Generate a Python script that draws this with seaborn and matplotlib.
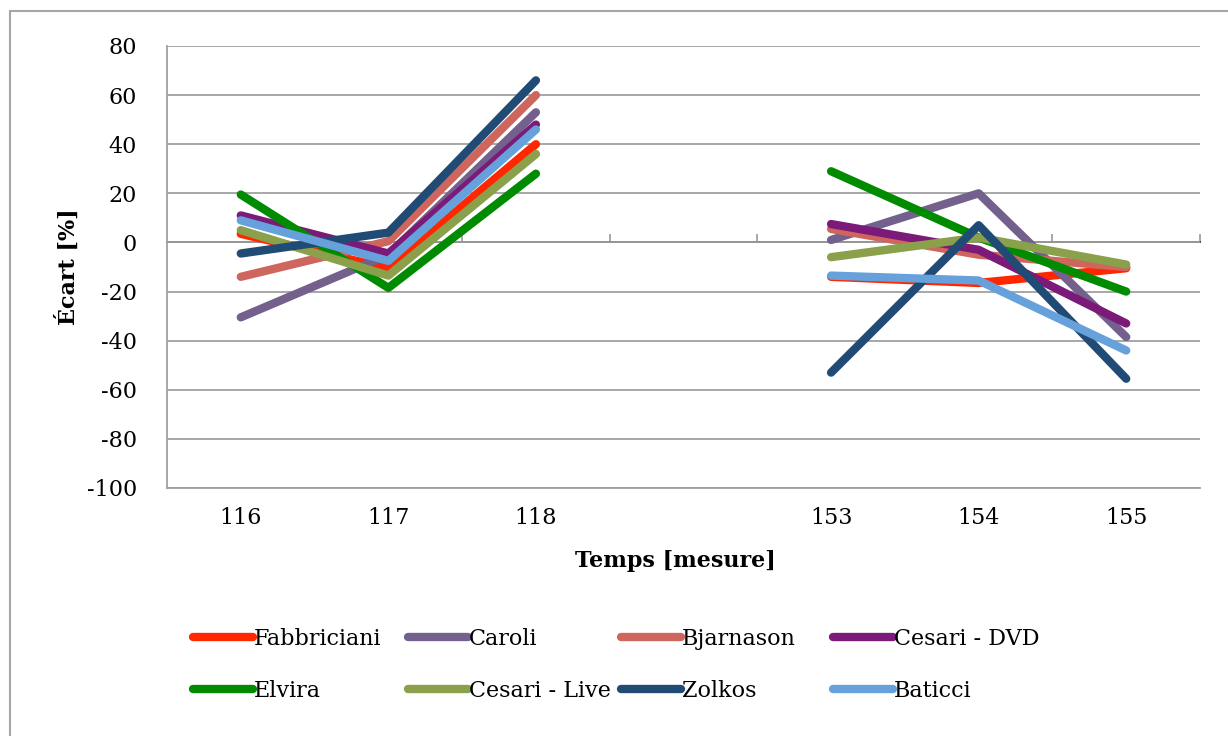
import matplotlib
matplotlib.use("Agg")
import matplotlib.pyplot as plt
from matplotlib.patches import Rectangle
import seaborn as sns
import pandas as pd
import numpy as np

# categories on the x axis (empty slot between 118 and 153)
categories = ["116", "117", "118", "", "153", "154", "155"]

# values, one list per performer (None = empty slot)
fabbriciani = [3.5, -10.5, 40, None, -14, -16.5, -10.5]
caroli = [-30.5, -5, 53, None, 1, 20, -38.5]
bjarnason = [-14, 0.5, 60, None, 5.5, -5, -10]
cesari_dvd = [11, -4.5, 48, None, 7.5, -3, -33]
elvira = [19.5, -18.5, 28, None, 29, 2, -20]
cesari_live = [5, -13.5, 36, None, -6, 2, -9]
zolkos = [-4.5, 4, 66, None, -53, 7, -55.5]
baticci = [9, -7.5, 46, None, -13.5, -15.5, -44]

names = ["Fabbriciani", "Caroli", "Bjarnason", "Cesari - DVD",
         "Elvira", "Cesari - Live", "Zolkos", "Baticci"]
series = [fabbriciani, caroli, bjarnason, cesari_dvd,
          elvira, cesari_live, zolkos, baticci]
colors = ["#FF2700", "#73608C", "#CF665E", "#7B1A78",
          "#008B00", "#8AA04A", "#1F4B75", "#66A1DC"]

# long table; each run of values between gaps becomes its own unit
rows = []
for name, vals in zip(names, series):
    seg = 0
    for pos, v in enumerate(vals):
        if v is None:
            seg += 1
            continue
        rows.append({"serie": name, "pos": pos, "ecart": v, "seg": seg})
df = pd.DataFrame(rows)

sns.set_theme(style="white")
plt.rcParams["font.family"] = ["DejaVu Serif"]
plt.rcParams["axes.unicode_minus"] = False
fs = 16
grid_c = "#A0A0A0"
lw = 6.0

fig = plt.figure(figsize=(12.28, 7.36), dpi=100)
ax = fig.add_axes([167 / 1228, 1 - 488 / 736, 1033 / 1228, 442 / 736])

sns.lineplot(data=df, x="pos", y="ecart", hue="serie", hue_order=names,
             units="seg", estimator=None, palette=colors, linewidth=lw,
             solid_capstyle="round", solid_joinstyle="round", ax=ax)

ax.set_xlim(-0.5, 6.5)
ax.set_ylim(-100, 80)
ax.set_yticks(np.arange(-100, 81, 20))
ax.set_xticks(range(len(categories)))
ax.set_xticklabels(categories)
ax.grid(axis="y", color=grid_c, lw=1.3)
ax.set_axisbelow(True)
for s in ["top", "right"]:
    ax.spines[s].set_visible(False)
for s in ["left", "bottom"]:
    ax.spines[s].set_color(grid_c)
    ax.spines[s].set_linewidth(1.3)
ax.tick_params(axis="y", length=6.5, width=1.3, color=grid_c, pad=15,
               labelsize=fs, labelcolor="black")
ax.tick_params(axis="x", length=0, pad=14, labelsize=fs, labelcolor="black")

# category axis crosses at zero, with tick marks between categories
sec = ax.secondary_xaxis(100 / 180)
sec.set_xticks(np.arange(0.5, 7, 1))
sec.set_xticklabels([])
sec.spines["bottom"].set_color(grid_c)
sec.spines["bottom"].set_linewidth(1.3)
sec.tick_params(length=6, width=1.3, color=grid_c, direction="out")

ax.set_xlabel("Temps [mesure]", fontsize=fs, fontweight="bold", color="black")
ax.set_ylabel("Écart [%]", fontsize=fs, fontweight="bold", color="black")
ax.xaxis.set_label_coords(0.492, -0.14)
ax.yaxis.set_label_coords(-0.084, 0.5)

# legend: 4 equal-width columns, filled row by row
handles, labels = ax.get_legend_handles_labels()
ax.get_legend().remove()
col_x = [193, 408, 621, 833]
for c, x0 in enumerate(col_x):
    idx = [c, c + 4]
    leg = fig.legend([handles[i] for i in idx], [labels[i] for i in idx],
                     loc="upper left",
                     bbox_to_anchor=(x0 / 1228, 1 - 628 / 736),
                     ncol=1, frameon=False, fontsize=16, handlelength=2.7,
                     handletextpad=0.05, labelspacing=1.33,
                     borderpad=0, borderaxespad=0)
    for t in leg.get_texts():
        t.set_color("black")
    for h in leg.get_lines():
        h.set_linewidth(lw)
        h.set_solid_capstyle("round")

# light outer frame of the chart area
fig.add_artist(Rectangle((10 / 1228, -0.1), 1.2, 1.1 - 11 / 736,
                         transform=fig.transFigure, fill=False,
                         edgecolor="#A6A6A6", lw=1.5))

fig.savefig("out.png", dpi=100)
